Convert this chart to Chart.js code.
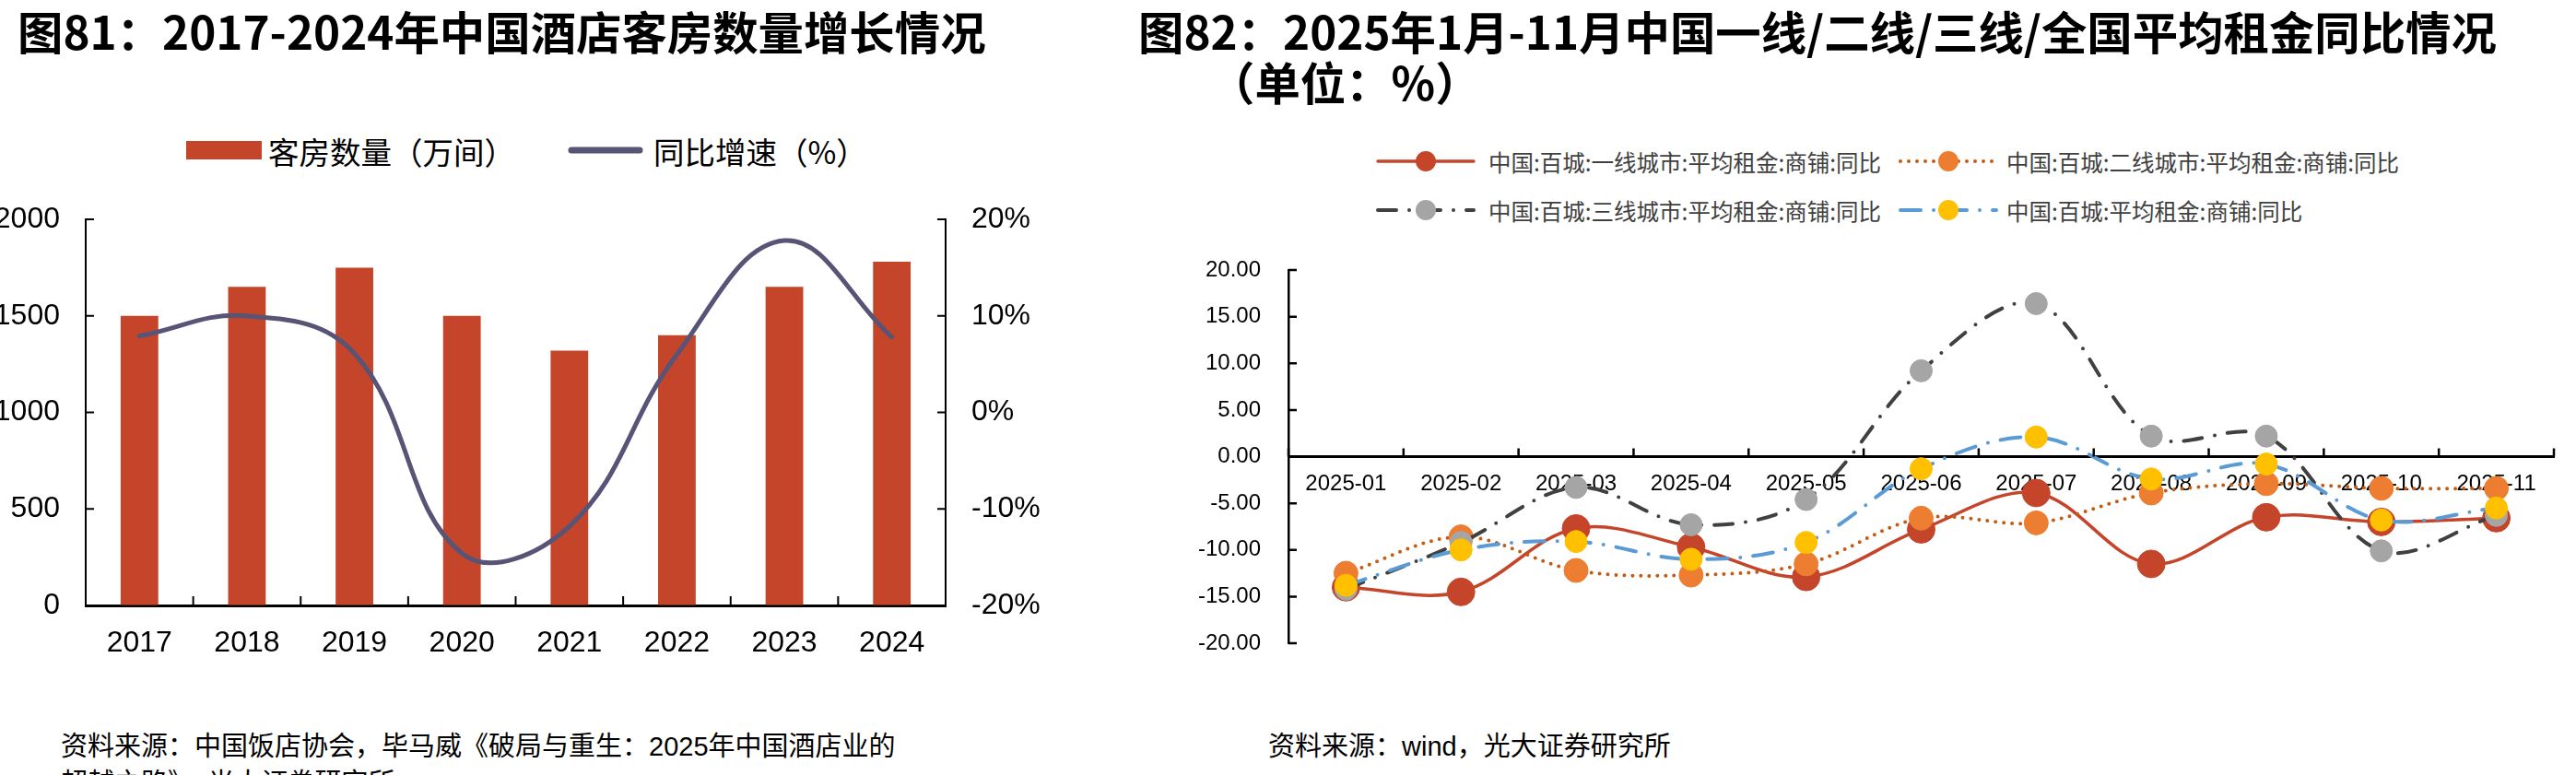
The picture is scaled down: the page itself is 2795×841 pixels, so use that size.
<!DOCTYPE html>
<html lang="zh-CN">
<head>
<meta charset="utf-8">
<title>酒店客房数量与商铺租金同比</title>
<script src="https://cdn.jsdelivr.net/npm/chart.js@4.4.1/dist/chart.umd.min.js"></script>
<style>
  html, body { margin: 0; padding: 0; background: #fff; }
  body {
    width: 2795px; height: 841px; position: relative; overflow: hidden;
    font-family: "Liberation Sans", "Noto Sans CJK SC", sans-serif; color: #000;
  }
  .abs { position: absolute; white-space: nowrap; }
  .title { font-family: "Noto Sans CJK SC", sans-serif; font-weight: 700; font-size: 49.4px; line-height: 1; }
  .note { font-size: 29px; line-height: 40px; }
  .lg { display: flex; align-items: center; height: 40px; font-family: "Noto Sans CJK SC", sans-serif; }
  canvas { position: absolute; }
</style>
</head>
<body>

<div class="abs title" style="left:19px; top:8px;">图81：2017-2024年中国酒店客房数量增长情况</div>
<div class="abs title" style="left:1235px; top:8px;">图82：2025年1月-11月中国一线/二线/三线/全国平均租金同比情况</div>
<div class="abs title" style="left:1312px; top:63px;">（单位：%）</div>

<div id="roomLegend"></div>
<div id="rentLegend"></div>

<canvas id="roomChart" width="1150" height="560" style="left:-10px; top:200px;"></canvas>
<canvas id="rentChart" width="1505" height="480" style="left:1290px; top:250px;"></canvas>

<div class="abs note" style="left:66px; top:790px;">资料来源：中国饭店协会，毕马威《破局与重生：2025年中国酒店业的<br>超越之路》，光大证券研究所</div>
<div class="abs note" style="left:1376px; top:790px;">资料来源：wind，光大证券研究所</div>

<script>
// 图81 数据
const years = ['2017', '2018', '2019', '2020', '2021', '2022', '2023', '2024'];
const rooms = [1500, 1650, 1750, 1500, 1320, 1400, 1650, 1780];
const roomGrowth = [7.9, 10.0, 6.1, -14.6, -11.8, 6.0, 17.8, 7.8];
const roomLabels = ['客房数量（万间）', '同比增速（%）'];
const roomTicks = [0, 500, 1000, 1500, 2000];
const growthTicks = [-20, -10, 0, 10, 20];

// 图82 数据
const months = ['2025-01', '2025-02', '2025-03', '2025-04', '2025-05', '2025-06',
                '2025-07', '2025-08', '2025-09', '2025-10', '2025-11'];
const tier1 = [-14.0, -14.5, -7.7, -9.7, -12.9, -7.8, -3.9, -11.5, -6.5, -7.0, -6.6];
const tier2 = [-12.5, -8.6, -12.2, -12.7, -11.5, -6.6, -7.1, -3.9, -2.9, -3.4, -3.4];
const tier3 = [-14.2, -9.2, -3.3, -7.3, -4.6, 9.2, 16.4, 2.2, 2.2, -10.1, -6.3];
const national = [-13.8, -10.0, -9.1, -11.0, -9.2, -1.3, 2.1, -2.4, -0.8, -6.8, -5.5];
const rentLabels = [
    '中国:百城:一线城市:平均租金:商铺:同比',
    '中国:百城:二线城市:平均租金:商铺:同比',
    '中国:百城:三线城市:平均租金:商铺:同比',
    '中国:百城:平均租金:商铺:同比'
];
const rentTicks = [-20, -15, -10, -5, 0, 5, 10, 15, 20];

const BAR_RED = '#C4452A';
const GROWTH_LINE = '#575476';

Chart.defaults.font.family = '"Liberation Sans", Arial, sans-serif';
Chart.defaults.color = '#000';

// 刻度线朝图内画（Excel 风格）
const innerTicks = {
    id: 'innerTicks',
    afterDraw(chart, args, opts) {
        const { ctx, chartArea } = chart;
        ctx.save();
        ctx.strokeStyle = '#000';
        (opts.axes || []).forEach(a => {
            const s = chart.scales[a.id];
            ctx.lineWidth = a.width;
            ctx.beginPath();
            if (s.isHorizontal()) {
                const y = a.atZero ? chart.scales.y.getPixelForValue(0) : chartArea.bottom;
                for (let i = 0; i <= s.ticks.length; i++) {
                    const x = s.getPixelForValue(i - 0.5);
                    ctx.moveTo(x, y);
                    ctx.lineTo(x, y - a.len);
                }
            } else {
                const onRight = s.position === 'right';
                const x = onRight ? chartArea.right : chartArea.left;
                s.ticks.forEach(t => {
                    const y = s.getPixelForValue(t.value);
                    ctx.moveTo(x, y);
                    ctx.lineTo(x + (onRight ? -a.len : a.len), y);
                });
            }
            ctx.stroke();
        });
        ctx.restore();
    }
};

const fixTicks = list => scale => { scale.ticks = list.map(v => ({ value: v })); };
// 固定 y 轴宽度，并去掉标签带来的上下留白，让绘图区只由 layout.padding 决定
const fixWidth = w => scale => { scale.width = w; scale.paddingTop = 0; scale.paddingBottom = 0; };
const noGrid = { drawOnChartArea: false, drawTicks: false };

// 图81
new Chart(document.getElementById('roomChart'), {
    type: 'bar',
    data: {
        labels: years,
        datasets: [
            {
                type: 'bar',
                label: roomLabels[0],
                data: rooms,
                backgroundColor: BAR_RED,
                categoryPercentage: 1,
                barPercentage: 0.35,
                yAxisID: 'y',
                order: 1
            },
            {
                type: 'line',
                label: roomLabels[1],
                data: roomGrowth,
                borderColor: GROWTH_LINE,
                borderWidth: 5,
                borderCapStyle: 'round',
                tension: 0.4,
                pointRadius: 0,
                yAxisID: 'y1',
                order: 0
            }
        ]
    },
    options: {
        responsive: false,
        animation: false,
        layout: { padding: { top: 38 } },
        plugins: {
            legend: { display: false },
            tooltip: { enabled: false },
            innerTicks: {
                axes: [
                    { id: 'x', len: 10, width: 2 },
                    { id: 'y', len: 9, width: 2 },
                    { id: 'y1', len: 9, width: 2 }
                ]
            }
        },
        scales: {
            x: {
                grid: noGrid,
                border: { color: '#000', width: 3 },
                ticks: { font: { size: 32 }, padding: 22, maxRotation: 0, autoSkip: false },
                afterFit: s => { s.height = 103; }
            },
            y: {
                position: 'left',
                min: 0, max: 2000,
                grid: noGrid,
                border: { color: '#000', width: 2 },
                afterBuildTicks: fixTicks(roomTicks),
                ticks: { font: { size: 32 }, padding: 28, callback: v => String(v) },
                afterFit: fixWidth(103)
            },
            y1: {
                position: 'right',
                min: -20, max: 20,
                grid: noGrid,
                border: { color: '#000', width: 2 },
                afterBuildTicks: fixTicks(growthTicks),
                ticks: { font: { size: 32 }, padding: 28, callback: v => v + '%' },
                afterFit: fixWidth(114)
            }
        }
    },
    plugins: [innerTicks]
});

// 图82
const rentStyles = [
    { data: tier1, line: '#C4452A', point: '#C4452A', dash: [], width: 3.5, r: 15 },
    { data: tier2, line: '#C55A11', point: '#ED7D31', dash: [0, 9], width: 4, r: 13 },
    { data: tier3, line: '#404040', point: '#A5A5A5', dash: [20, 14, 0, 14], width: 4, r: 12 },
    { data: national, line: '#5B9BD5', point: '#FFC000', dash: [22, 14, 0, 14], width: 4, r: 12 }
];

new Chart(document.getElementById('rentChart'), {
    type: 'line',
    data: {
        labels: months,
        datasets: rentStyles.map((st, i) => ({
            label: rentLabels[i],
            data: st.data,
            borderColor: st.line,
            borderWidth: st.width,
            borderDash: st.dash,
            borderCapStyle: 'round',
            tension: 0.35,
            pointRadius: st.r,
            pointBackgroundColor: st.point,
            pointBorderColor: st.point,
            pointBorderWidth: 1,
            order: rentStyles.length - i
        }))
    },
    options: {
        responsive: false,
        animation: false,
        layout: { padding: { top: 43, bottom: 32, right: 24 } },
        plugins: {
            legend: { display: false },
            tooltip: { enabled: false },
            innerTicks: {
                axes: [
                    { id: 'x', len: 9, width: 2.5, atZero: true },
                    { id: 'y', len: 9, width: 2.5 }
                ]
            }
        },
        scales: {
            x: {
                position: { y: 0 },
                offset: true,
                grid: { offset: true, drawOnChartArea: false, drawTicks: false },
                border: { color: '#000', width: 3 },
                ticks: { font: { size: 24 }, padding: 15, maxRotation: 0, autoSkip: false }
            },
            y: {
                min: -20, max: 20,
                grid: noGrid,
                border: { color: '#000', width: 2.5 },
                afterBuildTicks: fixTicks(rentTicks),
                ticks: { font: { size: 24 }, padding: 30, callback: v => v.toFixed(2) },
                afterFit: fixWidth(108)
            }
        }
    },
    plugins: [innerTicks]
});

// 图例（HTML）
function legendItem(parent, x, y, sampleSvg, sampleW, text, textX, fontSize, color) {
    const box = document.createElement('div');
    box.className = 'abs lg';
    box.style.left = x + 'px';
    box.style.top = (y - 20) + 'px';
    box.style.fontSize = fontSize + 'px';
    box.style.color = color;
    box.innerHTML = '<svg width="' + sampleW + '" height="40" style="flex:none">' + sampleSvg + '</svg>' +
        '<span style="margin-left:' + (textX - x - sampleW) + 'px">' + text + '</span>';
    parent.appendChild(box);
}

const roomLegend = document.getElementById('roomLegend');
legendItem(roomLegend, 202, 163, '<rect x="0" y="10" width="82" height="20" fill="' + BAR_RED + '"/>', 82,
    roomLabels[0], 291, 33.5, '#000');
legendItem(roomLegend, 616, 163, '<line x1="4" y1="20" x2="78" y2="20" stroke="' + GROWTH_LINE +
    '" stroke-width="7" stroke-linecap="round"/>', 82, roomLabels[1], 709, 33.5, '#000');

const rentLegend = document.getElementById('rentLegend');
const rentLegendPos = [[1491, 175, 1615], [2058, 175, 2177], [1491, 228, 1615], [2058, 228, 2177]];
rentStyles.forEach((st, i) => {
    const [x, y, tx] = rentLegendPos[i];
    const dash = st.dash.length ? ' stroke-dasharray="' + st.dash.join(' ') + '"' : '';
    const svg = '<line x1="4" y1="20" x2="108" y2="20" stroke="' + st.line + '" stroke-width="' + st.width +
        '" stroke-linecap="round"' + dash + '/>' +
        '<circle cx="56" cy="20" r="11" fill="' + st.point + '"/>';
    legendItem(rentLegend, x, y, svg, 112, rentLabels[i], tx, 24.5, '#404040');
});
</script>
</body>
</html>
